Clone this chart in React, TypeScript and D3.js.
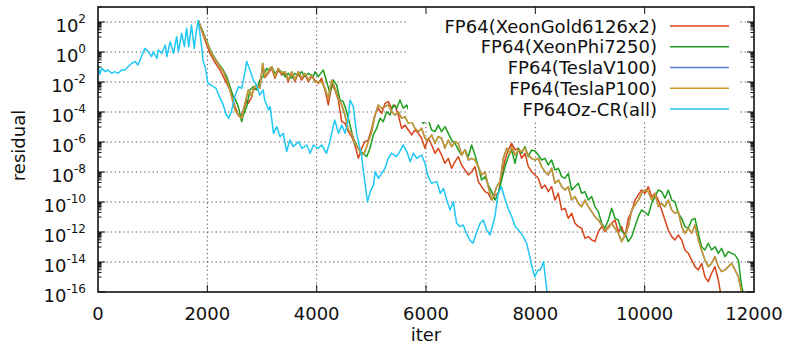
import React from 'react';
import * as d3 from 'd3';

type Pt = [number, number]; // [iteration, log10(residual)]

const xTickValues = [0, 2000, 4000, 6000, 8000, 10000, 12000];
const yTickExponents = [-16, -14, -12, -10, -8, -6, -4, -2, 0, 2];

const seriesNames = [
  'FP64(XeonGold6126x2)',
  'FP64(XeonPhi7250)',
  'FP64(TeslaV100)',
  'FP64(TeslaP100)',
  'FP64Oz-CR(all)',
];
const seriesColors = ['#d8441a', '#1f9e1f', '#5a80dc', '#cc9a22', '#1fc8f5'];

const ozcr: Pt[] = [
  [0,-0.8],[30,-1.5],[70,-1.09],[130,-1.31],[180,-1.2],[250,-1.42],[310,-1.31],[370,-1.42],[430,-1.2],[490,-1.2],
  [550,-0.98],[620,-0.75],[680,-0.64],[730,-0.87],[770,-0.53],[830,0.02],[860,0.24],[920,0.02],[980,-0.31],[1010,0.02],
  [1080,-0.42],[1100,0.13],[1170,-0.09],[1230,0.47],[1260,-0.31],[1320,0.69],[1380,-0.09],[1440,1.02],[1470,0.02],[1530,1.24],
  [1580,0.36],[1620,1.58],[1660,0.36],[1710,1.8],[1760,0.24],[1800,1.4],[1835,2.1],[1890,0.5],[1925,-0.64],[1960,-0.98],
  [2010,-2.1],[2070,-2.2],[2160,-2.42],[2220,-2.98],[2280,-3.42],[2350,-4.2],[2390,-4.42],[2440,-3.98],[2500,-2.98],[2570,-2.31],
  [2630,-2.42],[2690,-1.31],[2720,-0.64],[2780,-1.2],[2840,-1.87],[2900,-2.2],[2960,-2.87],[3020,-2.53],[3050,-3.2],[3120,-3.87],
  [3150,-3.64],[3210,-5.42],[3270,-4.98],[3330,-5.64],[3390,-5.42],[3450,-6.64],[3510,-5.87],[3570,-6.31],[3670,-5.98],[3730,-6.42],
  [3820,-6.2],[3880,-6.75],[3940,-6.2],[4030,-6.42],[4090,-6.2],[4180,-6.75],[4240,-5.98],[4330,-4.53],[4400,-5.42],[4460,-4.87],
  [4520,-5.42],[4580,-4.42],[4610,-3.2],[4670,-3.64],[4730,-5.42],[4820,-6.87],[4880,-8.65],[4930,-9.98],[4980,-9.31],[5040,-8.87],
  [5070,-7.98],[5130,-8.42],[5190,-8.09],[5250,-7.75],[5310,-7.09],[5370,-6.75],[5460,-6.98],[5520,-6.64],[5580,-6.2],[5650,-6.64],
  [5710,-7.31],[5770,-6.75],[5830,-7.09],[5920,-6.87],[5980,-7.42],[6040,-8.31],[6100,-8.75],[6200,-8.64],[6260,-9.42],[6320,-9.09],
  [6380,-9.87],[6440,-10.53],[6500,-9.98],[6560,-11.42],[6620,-11.64],[6680,-11.53],[6740,-12.09],[6800,-12.53],[6860,-12.75],[6930,-11.98],
  [6990,-11.42],[7050,-11.2],[7110,-11.87],[7170,-12.2],[7260,-10.98],[7320,-9.42],[7380,-8.98],[7440,-9.75],[7500,-10.42],[7570,-10.98],
  [7630,-11.64],[7720,-11.98],[7780,-12.31],[7840,-12.75],[7900,-13.64],[7930,-14.2],[7990,-14.98],[8050,-14.53],[8090,-14.53],[8150,-13.98],
  [8210,-15.87],[8250,-16.6],
];

const teslaP100: Pt[] = [
  [1835,2.1],[1926,1.24],[1988,0.69],[2049,0.13],[2109,-0.31],[2171,-0.64],[2231,-0.98],[2292,-1.31],[2354,-1.87],[2414,-2.53],
  [2475,-3.42],[2506,-3.87],[2566,-4.2],[2628,-4.42],[2658,-3.87],[2720,-2.98],[2749,-2.53],[2811,-2.98],[2841,-2.42],[2903,-2.2],
  [2963,-2.42],[3012,-0.75],[3054,-1.64],[3115,-1.31],[3177,-0.98],[3237,-1.64],[3298,-1.09],[3360,-1.42],[3420,-1.31],[3481,-1.87],
  [3543,-1.31],[3603,-1.87],[3664,-1.31],[3726,-1.75],[3786,-1.42],[3847,-1.87],[3909,-1.53],[3969,-2.0],[4030,-2.0],[4091,-1.98],
  [4152,-2.42],[4213,-3.1],[4275,-1.87],[4335,-2.42],[4396,-3.09],[4458,-3.53],[4518,-4.2],[4579,-5.2],[4640,-5.42],[4700,-6.09],
  [4762,-6.42],[4823,-6.87],[4884,-6.64],[4945,-5.98],[5006,-5.31],[5067,-4.2],[5127,-3.53],[5189,-3.75],[5250,-3.64],[5310,-3.53],
  [5372,-3.98],[5432,-4.2],[5493,-3.98],[5555,-4.42],[5615,-4.31],[5676,-4.75],[5738,-4.64],[5798,-5.09],[5860,-5.31],[5921,-5.09],
  [5981,-5.75],[6042,-5.87],[6104,-5.53],[6164,-6.09],[6224,-5.64],[6286,-5.75],[6346,-6.42],[6407,-5.87],[6469,-6.31],[6530,-5.98],
  [6591,-6.09],[6652,-6.87],[6713,-6.53],[6774,-7.2],[6836,-7.09],[6896,-7.2],[6957,-7.64],[7018,-8.2],[7079,-7.98],[7140,-8.98],
  [7201,-9.87],[7231,-9.64],[7292,-8.98],[7353,-8.64],[7414,-7.09],[7476,-6.42],[7536,-6.75],[7567,-6.31],[7628,-6.87],[7688,-6.53],
  [7750,-6.64],[7811,-6.42],[7872,-6.87],[7933,-7.09],[7994,-7.2],[8054,-7.09],[8116,-7.64],[8176,-7.98],[8237,-8.2],[8298,-7.75],
  [8359,-8.75],[8420,-8.53],[8482,-8.98],[8542,-9.2],[8603,-8.98],[8664,-9.87],[8725,-9.64],[8786,-10.09],[8848,-10.31],[8908,-9.87],
  [8969,-10.31],[9030,-10.64],[9091,-10.98],[9152,-11.2],[9213,-11.53],[9274,-11.87],[9335,-11.75],[9396,-11.42],[9457,-11.75],[9518,-12.09],
  [9579,-12.64],[9640,-12.2],[9701,-11.64],[9762,-10.53],[9823,-10.2],[9884,-9.87],[9945,-9.42],[10006,-9.2],[10066,-9.31],[10128,-9.87],
  [10189,-9.42],[10249,-10.31],[10311,-10.09],[10371,-10.31],[10432,-9.87],[10494,-10.53],[10554,-10.75],[10615,-10.64],[10677,-11.64],[10737,-12.09],
  [10798,-11.75],[10860,-12.09],[10920,-11.53],[10981,-12.53],[11042,-13.2],[11102,-13.87],[11163,-14.31],[11225,-14.09],[11286,-13.64],[11347,-14.31],
  [11408,-14.64],[11469,-14.53],[11530,-14.31],[11591,-14.09],[11652,-14.53],[11713,-14.98],[11774,-16.0],
];

// TeslaV100 follows TeslaP100 exactly in the picture (fully hidden beneath it)
const teslaV100: Pt[] = teslaP100.map((p) => [p[0], p[1]] as Pt);

const xeonPhi: Pt[] = [
  [1835,2.1],[1926,1.3],[1988,0.75],[2049,0.2],[2109,-0.25],[2171,-0.6],[2231,-0.9],[2292,-1.2],[2354,-1.64],[2414,-2.3],
  [2475,-2.98],[2506,-3.1],[2566,-3.64],[2628,-4.64],[2658,-4.2],[2720,-3.64],[2780,-2.53],[2841,-2.31],[2903,-2.53],[2963,-1.87],
  [3024,-1.64],[3085,-1.09],[3115,-1.2],[3177,-0.98],[3237,-1.42],[3298,-1.2],[3360,-1.31],[3420,-1.64],[3481,-1.42],[3543,-1.75],
  [3603,-1.42],[3664,-1.53],[3726,-1.31],[3786,-1.64],[3847,-1.42],[3938,-1.64],[3969,-1.31],[4030,-1.64],[4121,-1.2],[4184,-1.98],
  [4243,-2.75],[4304,-1.87],[4366,-2.2],[4426,-3.2],[4487,-3.31],[4549,-3.98],[4609,-4.87],[4670,-5.75],[4731,-6.2],[4792,-6.64],
  [4853,-6.75],[4915,-6.98],[4975,-6.42],[5036,-5.53],[5098,-5.09],[5158,-4.42],[5219,-4.64],[5280,-3.98],[5341,-4.2],[5402,-3.53],
  [5464,-3.75],[5524,-3.2],[5585,-3.75],[5646,-3.53],[5707,-4.09],[5768,-3.75],[5829,-4.2],[5890,-4.42],[5951,-4.75],[6012,-4.53],
  [6042,-4.53],[6104,-5.2],[6164,-5.31],[6225,-4.87],[6286,-5.31],[6347,-4.98],[6408,-5.42],[6469,-5.87],[6530,-6.09],[6591,-6.53],
  [6652,-6.87],[6713,-6.53],[6774,-6.98],[6835,-6.2],[6896,-6.87],[6957,-7.64],[7018,-8.53],[7079,-8.31],[7140,-8.87],[7201,-9.31],
  [7262,-9.87],[7323,-9.42],[7384,-8.53],[7445,-7.64],[7506,-6.98],[7567,-6.53],[7628,-7.42],[7689,-6.42],[7750,-6.75],[7811,-6.31],
  [7872,-6.98],[7933,-6.53],[7994,-6.6],[8054,-6.87],[8116,-7.2],[8176,-7.09],[8237,-7.53],[8298,-7.2],[8359,-7.87],[8420,-7.75],
  [8482,-8.31],[8542,-8.42],[8603,-8.09],[8664,-9.2],[8725,-8.98],[8786,-8.75],[8848,-9.42],[8908,-9.31],[8969,-9.87],[9030,-9.64],
  [9091,-10.31],[9152,-10.64],[9213,-11.42],[9274,-11.75],[9335,-11.2],[9396,-10.42],[9457,-11.09],[9518,-11.2],[9579,-11.98],[9640,-12.09],
  [9701,-12.64],[9762,-12.31],[9823,-11.64],[9884,-10.98],[9945,-10.53],[10006,-10.7],[10066,-10.87],[10128,-10.09],[10189,-9.64],[10249,-9.2],
  [10311,-9.31],[10371,-9.75],[10432,-9.2],[10494,-9.87],[10554,-9.98],[10615,-10.75],[10677,-11.09],[10737,-11.64],[10798,-11.75],[10860,-11.2],
  [10920,-11.09],[10981,-12.09],[11042,-12.98],[11102,-13.2],[11163,-12.75],[11225,-13.2],[11286,-12.98],[11347,-13.42],[11408,-13.09],[11469,-13.64],
  [11530,-13.31],[11591,-13.42],[11652,-13.53],[11713,-13.87],[11774,-15.64],[11800,-16.0],
];

const xeonGold: Pt[] = [
  [1835,2.1],[1926,1.1],[1988,0.5],[2049,-0.1],[2109,-0.5],[2171,-0.87],[2231,-1.2],[2292,-1.64],[2354,-2.1],[2414,-2.53],
  [2506,-3.64],[2566,-4.2],[2597,-4.31],[2658,-3.98],[2720,-3.2],[2749,-3.42],[2811,-3.0],[2841,-2.53],[2903,-2.42],[2963,-2.2],
  [3012,-1.0],[3054,-1.7],[3115,-1.42],[3177,-1.09],[3237,-1.75],[3298,-1.2],[3360,-1.53],[3420,-1.42],[3481,-1.98],[3543,-1.42],
  [3603,-1.98],[3664,-1.42],[3726,-1.87],[3786,-1.53],[3847,-1.98],[3909,-1.64],[3969,-1.87],[4030,-2.09],[4091,-1.75],[4152,-2.53],
  [4213,-3.53],[4275,-2.2],[4335,-2.53],[4396,-3.2],[4458,-4.64],[4518,-4.75],[4579,-5.31],[4640,-5.64],[4700,-6.2],[4762,-7.09],
  [4823,-6.42],[4884,-5.98],[4945,-5.87],[5006,-5.09],[5067,-4.2],[5127,-3.75],[5189,-4.09],[5250,-3.42],[5310,-3.31],[5372,-3.75],
  [5432,-3.53],[5493,-4.2],[5555,-5.09],[5615,-4.87],[5676,-5.2],[5738,-5.53],[5798,-5.2],[5860,-5.42],[5921,-5.75],[5981,-6.42],
  [6042,-5.75],[6104,-6.2],[6164,-6.75],[6224,-6.42],[6286,-6.87],[6346,-7.42],[6407,-7.09],[6469,-7.75],[6530,-7.31],[6591,-6.98],
  [6652,-7.53],[6713,-7.87],[6774,-8.2],[6836,-7.98],[6896,-7.64],[6957,-8.64],[7018,-8.98],[7079,-9.31],[7140,-9.42],[7201,-9.87],
  [7262,-9.53],[7323,-9.42],[7384,-8.31],[7445,-7.2],[7506,-6.53],[7567,-6.09],[7628,-6.53],[7688,-6.42],[7750,-7.09],[7811,-6.75],
  [7872,-7.64],[7933,-7.98],[7994,-8.2],[8054,-8.42],[8116,-9.09],[8176,-8.87],[8237,-9.31],[8298,-8.98],[8359,-9.87],[8420,-9.42],
  [8482,-10.53],[8542,-10.42],[8603,-11.09],[8664,-10.75],[8725,-11.42],[8786,-11.64],[8848,-11.75],[8908,-12.42],[8969,-12.31],[9030,-12.53],
  [9091,-12.64],[9152,-11.98],[9213,-11.64],[9274,-11.98],[9335,-11.64],[9396,-11.42],[9457,-11.2],[9518,-11.98],[9579,-11.64],[9640,-12.31],
  [9701,-11.09],[9762,-10.64],[9823,-9.87],[9884,-9.53],[9945,-9.2],[10006,-9.42],[10066,-8.98],[10128,-9.64],[10189,-9.42],[10249,-9.87],
  [10311,-10.53],[10371,-11.2],[10432,-11.87],[10494,-12.31],[10554,-12.53],[10615,-12.2],[10677,-12.53],[10737,-13.2],[10798,-13.42],[10860,-13.87],
  [10920,-14.31],[10981,-14.53],[11042,-14.09],[11102,-14.98],[11163,-15.31],[11225,-14.75],[11286,-14.31],[11347,-15.2],[11380,-15.87],[11400,-16.4],
];

const seriesData: Pt[][] = [xeonGold, xeonPhi, teslaV100, teslaP100, ozcr];

const FONT = '"DejaVu Sans", Verdana, sans-serif';

export default function App() {
  const W = 786, H = 351;
  const L = 98, R = 754, T = 7, B = 292;
  const x = d3.scaleLinear().domain([0, 12000]).range([L, R]);
  const y = d3.scaleLog().domain([1e-16, 1e3]).range([B, T]);
  const line = d3
    .line<Pt>()
    .x((d) => x(d[0]))
    .y((d) => y(Math.pow(10, d[1])));

  const minorVals: number[] = [];
  yTickExponents.forEach((e) => {
    for (let m = 1; m <= 9; m++) {
      const v = m * Math.pow(10, e + 1);
      if (v <= 1e3) minorVals.push(v);
    }
  });

  const key = { x0: 408, x1: 740, y0: T, y1: 122 };
  const keyRowY = (i: number) => 26 + i * 20.75;

  return (
    <svg
      width={W}
      height={H}
      viewBox={`0 0 ${W} ${H}`}
      style={{ position: 'absolute', left: 0, top: 0, background: '#fff' }}
      fontFamily={FONT}
    >
      <defs>
        <clipPath id="plotclip">
          <rect x={L} y={T} width={R - L} height={B - T} />
        </clipPath>
      </defs>
      <rect x={0} y={0} width={W} height={H} fill="#fff" />

      {/* grid */}
      <g stroke="#555" strokeWidth={1} strokeDasharray="1.3,2.9" fill="none">
        {xTickValues.slice(1, -1).map((v) => (
          <line key={'gx' + v} x1={x(v)} x2={x(v)} y1={B} y2={T} />
        ))}
        {yTickExponents.slice(1).map((e) => (
          <line key={'gy' + e} x1={L} x2={R} y1={y(Math.pow(10, e))} y2={y(Math.pow(10, e))} />
        ))}
      </g>

      {/* series */}
      <g clipPath="url(#plotclip)" fill="none" strokeWidth={1.5} strokeLinejoin="round">
        {seriesData.map((d, i) => (
          <path key={'s' + i} d={line(d) || ''} stroke={seriesColors[i]} />
        ))}
      </g>

      {/* key */}
      <rect x={key.x0} y={key.y0} width={key.x1 - key.x0} height={key.y1 - key.y0} fill="#fff" />
      {seriesNames.map((n, i) => (
        <g key={'k' + i}>
          <text x={657} y={keyRowY(i) + 6.5} textAnchor="end" fontSize={18} fill="#111">
            {n}
          </text>
          <line x1={670} x2={729} y1={keyRowY(i)} y2={keyRowY(i)} stroke={seriesColors[i]} strokeWidth={1.6} />
        </g>
      ))}

      {/* ticks */}
      <g stroke="#111" strokeWidth={1}>
        {xTickValues.slice(1, -1).map((v) => (
          <g key={'tx' + v}>
            <line x1={x(v)} x2={x(v)} y1={B} y2={B - 7} />
            <line x1={x(v)} x2={x(v)} y1={T} y2={T + 7} />
          </g>
        ))}
        {yTickExponents.map((e) => (
          <g key={'ty' + e}>
            <line x1={L} x2={L + 7} y1={y(Math.pow(10, e))} y2={y(Math.pow(10, e))} />
            <line x1={R} x2={R - 7} y1={y(Math.pow(10, e))} y2={y(Math.pow(10, e))} />
          </g>
        ))}
        {minorVals.map((v, i) => (
          <g key={'mt' + i}>
            <line x1={L} x2={L + 3.5} y1={y(v)} y2={y(v)} />
            <line x1={R} x2={R - 3.5} y1={y(v)} y2={y(v)} />
          </g>
        ))}
      </g>

      {/* border */}
      <rect x={L} y={T} width={R - L} height={B - T} fill="none" stroke="#111" strokeWidth={1.6} />

      {/* tick labels */}
      {xTickValues.map((v) => (
        <text key={'lx' + v} x={x(v)} y={320} textAnchor="middle" fontSize={18} fill="#111">
          {v}
        </text>
      ))}
      {yTickExponents.map((e) => (
        <text key={'ly' + e} x={86} y={y(Math.pow(10, e)) + 10} textAnchor="end" fontSize={18} fill="#111">
          <tspan>10</tspan>
          <tspan dy={-9} fontSize={12}>
            {e}
          </tspan>
        </text>
      ))}

      {/* axis titles */}
      <text x={(L + R) / 2} y={341} textAnchor="middle" fontSize={18} fill="#111">
        iter
      </text>
      <text
        transform={`translate(25, ${(T + B) / 2 - 4}) rotate(-90)`}
        textAnchor="middle"
        fontSize={18}
        fill="#111"
      >
        residual
      </text>
    </svg>
  );
}
